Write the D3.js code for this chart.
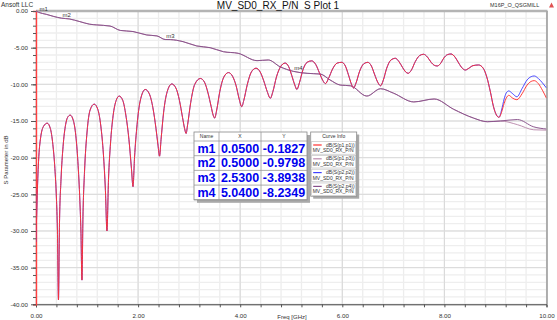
<!DOCTYPE html>
<html><head><meta charset="utf-8">
<script src="https://cdn.jsdelivr.net/npm/d3@7"></script>
<style>
body{margin:0;background:#fff}
svg{display:block;font-family:"Liberation Sans",Arial,sans-serif}
</style>
</head><body>
<svg id="c" width="557" height="320"></svg>
<script>
// ---------------- data ----------------
const chartTitle = "MV_SD0_RX_P/N\u00a0\u00a0S Plot 1";
const xTicksMajor = [0, 2, 4, 6, 8, 10];
const yTicksMajor = [0, -5, -10, -15, -20, -25, -30, -35, -40];

// return loss, shared part of dB(S(p1,p1)) and dB(S(p2,p2)) [GHz, dB]
const rlShared = [
 [0.00,-31.5],[0.02,-26],[0.05,-20.5],[0.09,-17.3],[0.15,-15.7],[0.22,-15.3],
 [0.28,-16.0],[0.33,-18.2],[0.37,-21.5],[0.40,-25.5],[0.42,-30],[0.44,-39.4],
 [0.46,-29],[0.49,-23],[0.53,-18.5],[0.58,-15.5],[0.62,-14.5],[0.67,-14.2],
 [0.73,-14.9],[0.78,-17],[0.82,-20.5],[0.86,-26],[0.88,-30],[0.90,-36.7],
 [0.92,-28],[0.95,-22],[1.00,-16.5],[1.06,-13.5],[1.14,-12.7],
 [1.21,-13.4],[1.27,-15.7],[1.32,-19.5],[1.36,-24.5],[1.39,-30.0],
 [1.42,-23],[1.46,-18],[1.51,-14.3],[1.57,-12.2],[1.63,-11.6],
 [1.70,-12.2],[1.76,-14.2],[1.82,-17.5],[1.87,-21.5],[1.90,-23.95],
 [1.93,-20],[1.98,-15.5],[2.04,-12.3],[2.14,-10.7],
 [2.22,-11.3],[2.29,-13.2],[2.35,-16],[2.39,-18.3],[2.42,-19.8],
 [2.45,-17.5],[2.50,-13.8],[2.57,-11],[2.66,-9.95],
 [2.74,-10.5],[2.81,-12.2],[2.87,-14.5],[2.91,-16],[2.94,-16.7],
 [2.97,-15.5],[3.03,-12.5],[3.11,-10],[3.22,-9.2],
 [3.30,-9.7],[3.37,-11.2],[3.43,-13],[3.47,-14.2],[3.50,-14.6],
 [3.54,-13.5],[3.60,-11],[3.68,-9],[3.77,-8.4],
 [3.85,-8.9],[3.92,-10.2],[3.98,-12],[4.03,-13.05],
 [4.07,-12.2],[4.14,-10],[4.22,-8.3],[4.31,-7.8],
 [4.39,-8.3],[4.46,-9.5],[4.53,-11],[4.59,-11.9],
 [4.64,-11],[4.71,-9],[4.79,-7.6],[4.88,-7.1],
 [4.95,-7.6],[5.01,-8.8],[5.07,-10.1],[5.11,-10.7],
 [5.16,-9.8],[5.23,-8.0],[5.31,-7.0],[5.40,-6.8],
 [5.48,-7.3],[5.55,-8.4],[5.62,-9.5],[5.67,-9.9],
 [5.73,-9.2],[5.81,-7.9],[5.90,-7.1],[5.99,-7.0],
 [6.06,-7.5],[6.12,-8.7],[6.18,-10],[6.22,-10.5],
 [6.27,-9.8],[6.34,-8.2],[6.42,-7.2],[6.50,-7.0],
 [6.57,-7.5],[6.63,-8.6],[6.70,-9.8],[6.75,-10.2],
 [6.80,-9.5],[6.87,-7.8],[6.95,-6.7],[7.04,-6.45],
 [7.11,-6.9],[7.18,-7.7],[7.24,-8.3],[7.29,-8.5],
 [7.35,-8.1],[7.43,-6.9],[7.51,-6.1],[7.59,-5.9],
 [7.67,-6.3],[7.74,-7.0],[7.80,-7.4],[7.86,-7.5],
 [7.92,-7.2],[7.99,-6.4],[8.06,-5.95],[8.13,-5.86],
 [8.21,-6.3],[8.28,-7.1],[8.35,-7.8],[8.41,-8.05],
 [8.48,-7.8],[8.56,-7.45],[8.67,-7.36],
 [8.76,-7.8],[8.83,-9.0],[8.90,-11],[8.96,-13],[9.02,-14.2],[9.07,-14.5]
];
const s11Tail = [[9.12,-13.8],[9.17,-12.6],[9.21,-11.9],[9.26,-11.5],[9.34,-11.9],[9.42,-12.1],
 [9.52,-11.3],[9.62,-10.1],[9.70,-9.6],[9.76,-9.5],[9.84,-9.9],[9.92,-10.8],[10.0,-11.9]];
const s22Tail = [[9.12,-13.5],[9.17,-12.0],[9.21,-11.2],[9.26,-10.9],[9.34,-11.3],[9.42,-11.7],
 [9.52,-10.6],[9.62,-9.4],[9.70,-8.95],[9.76,-8.86],[9.84,-9.2],[9.92,-9.8],[10.0,-10.5]];

// insertion loss, shared part of dB(S(p1,p3)) and dB(S(p2,p4)) [GHz, dB]
const ilShared = [
 [0.00,0.00],[0.05,-0.18],[0.20,-0.45],[0.35,-0.75],[0.50,-0.98],[0.65,-1.08],
 [0.86,-1.45],[1.05,-1.80],[1.19,-1.90],[1.45,-2.05],[1.65,-2.65],[1.90,-2.80],
 [2.17,-3.27],[2.37,-3.40],[2.53,-3.89],[2.63,-3.90],[2.88,-4.18],[3.15,-4.77],
 [3.41,-5.00],[3.67,-5.55],[3.96,-5.77],[4.33,-6.77],[4.55,-6.68],[4.78,-7.60],
 [5.04,-8.23],[5.31,-8.50],[5.57,-8.60],[5.76,-9.40],[5.96,-10.10],[6.16,-10.20],
 [6.48,-11.60],[6.75,-10.60],[7.00,-11.20],[7.40,-12.40],[7.80,-12.00],[8.18,-13.40],
 [8.57,-14.60],[8.84,-15.10],[9.10,-15.00]
];
const s13Tail = [[9.43,-15.5],[9.75,-16.2],[10.0,-16.25]];
const s24Tail = [[9.43,-14.8],[9.75,-15.8],[10.0,-16.1]];

const markerNames = ["m1","m2","m3","m4"];
const markerX = [0.05, 0.50, 2.53, 5.04];
const markerY = [-0.1827, -0.9798, -3.8938, -8.2349];

const traceNames = ["dB(S(p1,p1))","dB(S(p1,p3))","dB(S(p2,p2))","dB(S(p2,p4))"];
const designName = "MV_SD0_RX_P/N";

// ---------------- drawing ----------------
const traceColors = ["#ff3030","#b98aac","#4040ff","#87508a"];
const series = [
  rlShared.concat(s11Tail),
  ilShared.concat(s13Tail),
  rlShared.concat(s22Tail),
  ilShared.concat(s24Tail)
];

const svg = d3.select("#c");
const L = 36, R = 546.5, T = 11, B = 304.3;
const x = d3.scaleLinear().domain([0,10]).range([L,R]);
const y = d3.scaleLinear().domain([-40,0]).range([B,T]);
const f2 = d => d.toFixed(2);
const f4 = d => d.toFixed(4);

// grid
const g = svg.append("g");
g.selectAll("line.vmin").data(d3.range(0,10.01,0.4)).join("line")
  .attr("x1",d=>x(d)).attr("x2",d=>x(d)).attr("y1",T).attr("y2",B)
  .attr("stroke","#ededed").attr("stroke-width",1.3);
g.selectAll("line.hmin").data(d3.range(-40,0.01,1)).join("line")
  .attr("x1",L).attr("x2",R).attr("y1",d=>y(d)).attr("y2",d=>y(d))
  .attr("stroke","#eeeeee").attr("stroke-width",1.3);
g.selectAll("line.vmaj").data(xTicksMajor).join("line")
  .attr("x1",d=>x(d)).attr("x2",d=>x(d)).attr("y1",T).attr("y2",B)
  .attr("stroke","#d8d8d8").attr("stroke-width",1);
g.selectAll("line.hmaj").data(yTicksMajor).join("line")
  .attr("x1",L).attr("x2",R).attr("y1",d=>y(d)).attr("y2",d=>y(d))
  .attr("stroke","#dadada").attr("stroke-width",1);

// frame top/right
svg.append("line").attr("x1",L).attr("x2",R+1).attr("y1",T).attr("y2",T)
  .attr("stroke","#b4b4b4").attr("stroke-width",2.5);
svg.append("line").attr("x1",R+0.5).attr("x2",R+0.5).attr("y1",T).attr("y2",B)
  .attr("stroke","#a8a8a8").attr("stroke-width",1.8);

// axes
const xAxis = svg.append("g").attr("transform",`translate(0,${B})`)
  .call(d3.axisBottom(x).tickValues(d3.range(0,10.01,0.4)).tickSize(3).tickFormat(""));
xAxis.select(".domain").attr("stroke","#444");
xAxis.selectAll(".tick line").attr("stroke","#555");
const xLab = svg.append("g").attr("transform",`translate(0,${B})`)
  .call(d3.axisBottom(x).tickValues(xTicksMajor).tickSize(0).tickPadding(9).tickFormat(f2));
xLab.select(".domain").remove();
xLab.selectAll("text").attr("font-size",6.2).attr("fill","#333").attr("font-family","Liberation Sans, Arial");

const yAxis = svg.append("g").attr("transform",`translate(${L},0)`)
  .call(d3.axisLeft(y).tickValues(d3.range(-40,0.01,1)).tickSize(3).tickFormat(""));
yAxis.select(".domain").attr("stroke","#ff4040").attr("stroke-width",1.4);
yAxis.selectAll(".tick line").attr("stroke","#555");
const yLab = svg.append("g").attr("transform",`translate(${L},0)`)
  .call(d3.axisLeft(y).tickValues(yTicksMajor).tickSize(5).tickPadding(3).tickFormat(f2));
yLab.select(".domain").remove();
yLab.selectAll(".tick line").attr("stroke","#555");
yLab.selectAll("text").attr("font-size",6.2).attr("fill","#333").attr("font-family","Liberation Sans, Arial");

// clip
svg.append("clipPath").attr("id","clip").append("rect")
  .attr("x",L).attr("y",T-2).attr("width",R-L).attr("height",B-T+2);

const line = d3.line().x(d=>x(d[0])).y(d=>y(d[1])).curve(d3.curveMonotoneX);
const drawOrder = [1,3,2,0];
svg.append("g").attr("clip-path","url(#clip)")
  .selectAll("path").data(drawOrder).join("path")
  .attr("d",i=>line(series[i])).attr("fill","none")
  .attr("stroke",i=>traceColors[i]).attr("stroke-width",0.95);

// marker labels
svg.append("g").selectAll("text").data(markerNames).join("text")
  .attr("x",(d,i)=>x(markerX[i])+1).attr("y",(d,i)=>y(markerY[i])-1.5)
  .attr("font-size",6).attr("fill","#333").text(d=>d);

// titles
svg.append("text").attr("x",278).attr("y",9).attr("text-anchor","middle")
  .attr("font-size",10).attr("fill","#111").text(chartTitle);
svg.append("text").attr("x",1).attr("y",7).attr("font-size",6.5).attr("fill","#333").text("Ansoft LLC");
svg.append("text").attr("x",490).attr("y",7).attr("font-size",5.5).attr("fill","#333").text("M16P_O_QSGMILL");
svg.append("path").attr("d","M549,7.5 L551.5,2.5 L554,7.5 Z").attr("fill","#e05050");
svg.append("text").attr("transform","translate(8,160) rotate(-90)").attr("text-anchor","middle")
  .attr("font-size",6).attr("fill","#333").text("S Parameter in dB");
svg.append("text").attr("x",292).attr("y",318.5).attr("text-anchor","middle")
  .attr("font-size",6).attr("fill","#333").text("Freq [GHz]");

// marker table
const tX = 194, tY = 132, colW = [25,42,46], headH = 9, rowH = 14.7;
const tW = d3.sum(colW), tH = headH + rowH*markerNames.length;
const tb = svg.append("g");
tb.append("rect").attr("x",tX+3).attr("y",tY+3).attr("width",tW).attr("height",tH).attr("fill","#a9a9a9");
tb.append("rect").attr("x",tX).attr("y",tY).attr("width",tW).attr("height",tH).attr("fill","#fff").attr("stroke","#888").attr("stroke-width",0.8);
const colX = [tX, tX+colW[0], tX+colW[0]+colW[1], tX+tW];
["Name","X","Y"].forEach((h,i)=>{
  tb.append("text").attr("x",(colX[i]+colX[i+1])/2).attr("y",tY+6.3).attr("text-anchor","middle")
    .attr("font-size",5).attr("fill","#333").text(h);
});
[1,2].forEach(i=>tb.append("line").attr("x1",colX[i]).attr("x2",colX[i]).attr("y1",tY).attr("y2",tY+tH).attr("stroke","#999").attr("stroke-width",0.8));
d3.range(markerNames.length+1).forEach(r=>tb.append("line").attr("x1",tX).attr("x2",tX+tW)
  .attr("y1",tY+headH+r*rowH).attr("y2",tY+headH+r*rowH).attr("stroke","#999").attr("stroke-width",0.8));
markerNames.forEach((m,r)=>{
  const cy = tY+headH+r*rowH+rowH/2+4.4;
  const vals = [m, f4(markerX[r]), f4(markerY[r])];
  vals.forEach((v,i)=>{
    tb.append("text").attr("x",(colX[i]+colX[i+1])/2).attr("y",cy).attr("text-anchor","middle")
      .attr("font-size",12.5).attr("font-weight","bold").attr("fill","#0000ee").text(v);
  });
});

// curve info legend
const lX = 310.7, lY = 132, lW = 46, entH = 13.8;
const lH = headH + entH*traceNames.length;
const lg = svg.append("g");
lg.append("rect").attr("x",lX+2.5).attr("y",lY+2.5).attr("width",lW).attr("height",lH).attr("fill","#a9a9a9");
lg.append("rect").attr("x",lX).attr("y",lY).attr("width",lW).attr("height",lH).attr("fill","#fff").attr("stroke","#888").attr("stroke-width",0.8);
lg.append("text").attr("x",lX+lW/2).attr("y",lY+6.3).attr("text-anchor","middle").attr("font-size",5).attr("fill","#333").text("Curve Info");
traceNames.forEach((n,i)=>{
  const ey = lY+headH+i*entH;
  lg.append("rect").attr("x",lX+1).attr("y",ey+0.6).attr("width",lW-2).attr("height",entH-1.2)
    .attr("fill","#fff").attr("stroke","#bbb").attr("stroke-width",0.6);
  lg.append("line").attr("x1",lX+2.5).attr("x2",lX+11).attr("y1",ey+4).attr("y2",ey+4)
    .attr("stroke",traceColors[i]).attr("stroke-width",1.2);
  lg.append("text").attr("x",lX+lW-2).attr("y",ey+5.6).attr("text-anchor","end").attr("font-size",5).attr("fill","#333").text(n);
  lg.append("text").attr("x",lX+2).attr("y",ey+11).attr("font-size",5).attr("fill","#333").text(designName);
});
</script>
</body></html>
